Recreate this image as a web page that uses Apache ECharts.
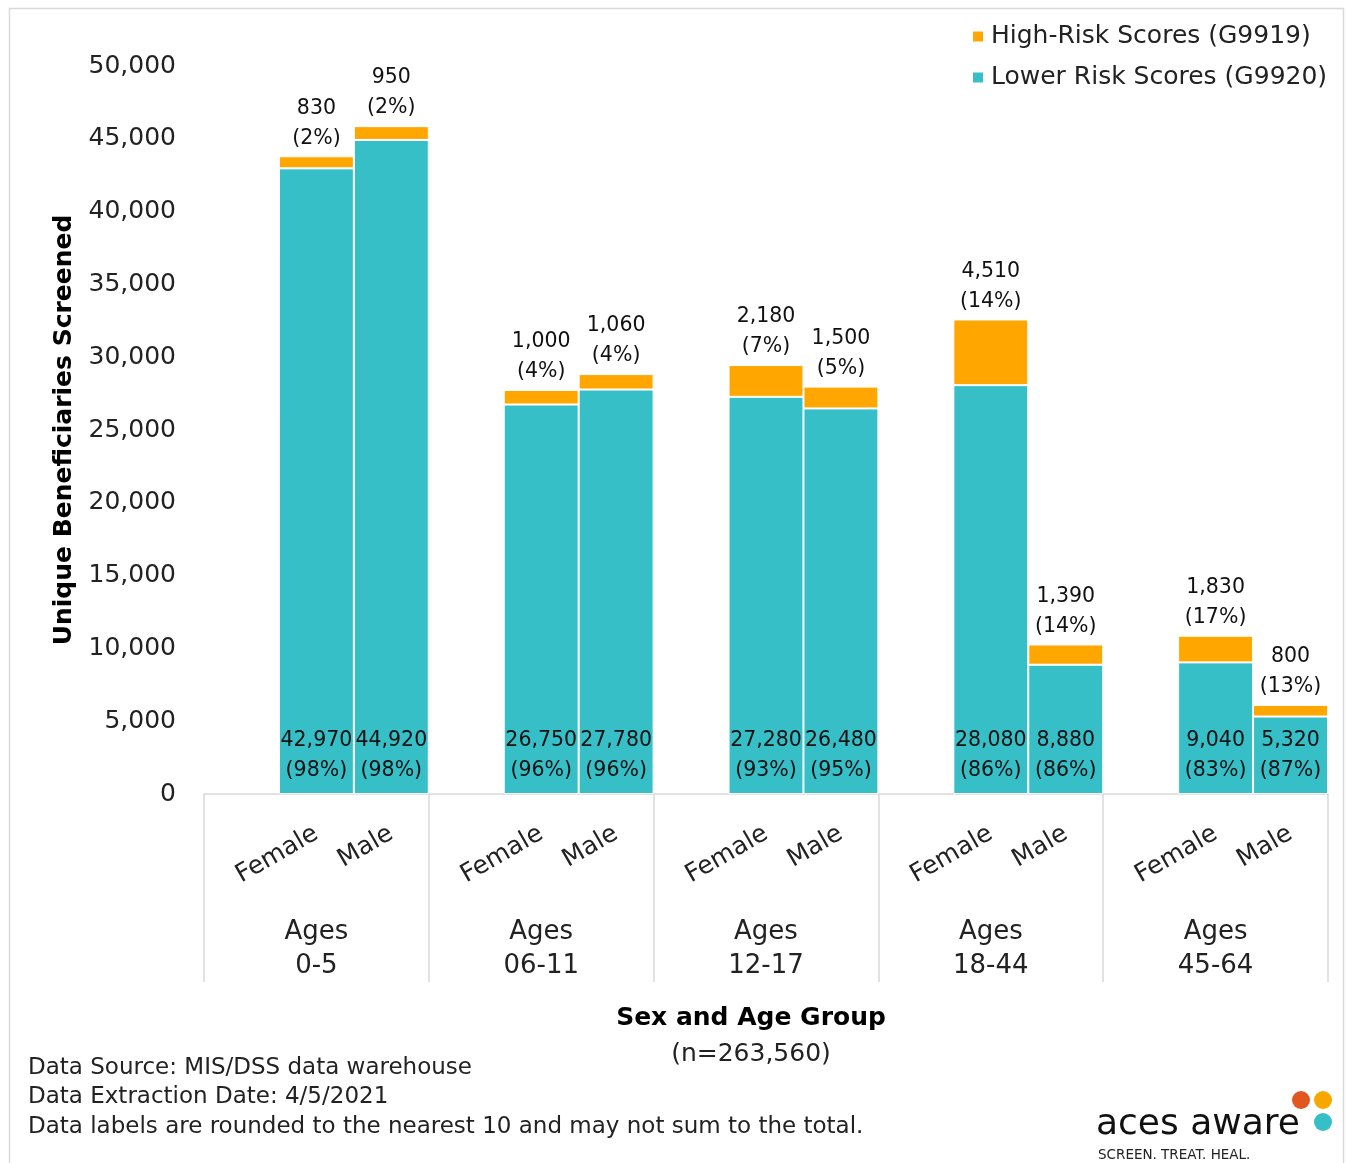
<!DOCTYPE html>
<html>
<head>
<meta charset="utf-8">
<title>Unique Beneficiaries Screened by Sex and Age Group</title>
<script src="https://cdn.jsdelivr.net/npm/echarts@6/dist/echarts.min.js"></script>
<style>
  html, body { margin: 0; padding: 0; background: #fff; }
  #chart { width: 1346px; height: 1163px; }
</style>
</head>
<body>
<div id="chart"></div>
<script>
// Age groups (second axis level) and sexes (first axis level)
const ageGroups = ['Ages\n0-5', 'Ages\n06-11', 'Ages\n12-17', 'Ages\n18-44', 'Ages\n45-64'];
const sexes = ['Female', 'Male'];

// Values ordered Female/Male within each age group
const lowerRisk = [42970, 44920, 26750, 27780, 27280, 26480, 28080, 8880, 9040, 5320];
const lowerPct  = [98, 98, 96, 96, 93, 95, 86, 86, 83, 87];
const highRisk  = [830, 950, 1000, 1060, 2180, 1500, 4510, 1390, 1830, 800];
const highPct   = [2, 2, 4, 4, 7, 5, 14, 14, 17, 13];

const yTicks = { min: 0, max: 50000, interval: 5000 };

const FONT = "'Century Gothic', 'DejaVu Sans', sans-serif";
const TEAL = '#36BFC6';
const ORANGE = '#FFA600';
const GRID_LINE = '#D9D9D9';

// Each age group gets an empty leading slot followed by Female and Male
const categories = [];
const lowerData = [];
const highData = [];
ageGroups.forEach((g, gi) => {
  categories.push('');
  lowerData.push(null);
  highData.push(null);
  sexes.forEach((s, si) => {
    const k = gi * sexes.length + si;
    categories.push(s);
    lowerData.push({ value: lowerRisk[k], pct: lowerPct[k] });
    highData.push({ value: highRisk[k], pct: highPct[k] });
  });
});

const fmt = v => Number(v).toLocaleString('en-US');

const chart = echarts.init(document.getElementById('chart'), null, { renderer: 'canvas' });

chart.setOption({
  backgroundColor: '#fff',
  textStyle: { fontFamily: FONT },
  animation: false,
  legend: {
    orient: 'vertical',
    left: 966,
    top: 19,
    align: 'left',
    itemWidth: 12,
    itemHeight: 12,
    itemGap: 16,
    icon: 'rect',
    data: ['High-Risk Scores (G9919)', 'Lower Risk Scores (G9920)'],
    textStyle: { fontFamily: FONT, fontSize: 25, color: '#222', padding: [0, 0, 0, 2] }
  },
  grid: { left: 204, right: 18, top: 66, bottom: 369, containLabel: false },
  xAxis: [
    {
      type: 'category',
      data: categories,
      boundaryGap: true,
      axisLine: { show: true, lineStyle: { color: GRID_LINE, width: 1.5 } },
      axisTick: { show: false },
      axisLabel: {
        interval: 0,
        rotate: 30,
        margin: 38,
        fontFamily: FONT,
        fontSize: 25,
        color: '#222'
      }
    },
    {
      type: 'category',
      data: ageGroups,
      position: 'bottom',
      boundaryGap: true,
      axisLine: { show: false },
      axisTick: { show: true, length: 188, lineStyle: { color: GRID_LINE, width: 1.5 } },
      axisLabel: {
        interval: 0,
        margin: 121,
        fontFamily: FONT,
        fontSize: 26,
        lineHeight: 34,
        color: '#222'
      }
    }
  ],
  yAxis: {
    type: 'value',
    min: yTicks.min,
    max: yTicks.max,
    interval: yTicks.interval,
    splitLine: { show: false },
    axisLine: { show: false },
    axisTick: { show: false },
    axisLabel: {
      margin: 28,
      fontFamily: FONT,
      fontSize: 25,
      color: '#222',
      formatter: v => fmt(v)
    },
    name: 'Unique Beneficiaries Screened',
    nameLocation: 'middle',
    nameGap: 127,
    nameTextStyle: { fontFamily: FONT, fontSize: 25, fontWeight: 'bold', color: '#000' }
  },
  series: [
    {
      name: 'Lower Risk Scores (G9920)',
      type: 'bar',
      stack: 'total',
      xAxisIndex: 0,
      barCategoryGap: '0%',
      data: lowerData,
      itemStyle: { color: TEAL, borderColor: '#fff', borderWidth: 1 },
      label: {
        show: true,
        position: 'insideBottom',
        distance: 8,
        fontFamily: FONT,
        fontSize: 20.5,
        lineHeight: 30,
        color: '#111',
        formatter: p => fmt(p.data.value) + '\n(' + p.data.pct + '%)'
      }
    },
    {
      name: 'High-Risk Scores (G9919)',
      type: 'bar',
      stack: 'total',
      xAxisIndex: 0,
      barCategoryGap: '0%',
      data: highData,
      itemStyle: { color: ORANGE, borderColor: '#fff', borderWidth: 1 },
      label: {
        show: true,
        position: 'top',
        distance: 3,
        fontFamily: FONT,
        fontSize: 20.5,
        lineHeight: 30,
        color: '#111',
        formatter: p => fmt(p.data.value) + '\n(' + p.data.pct + '%)'
      }
    }
  ],
  graphic: [
    // chart frame
    {
      type: 'rect',
      shape: { x: 9.5, y: 8.5, width: 1334, height: 1170 },
      style: { fill: 'none', stroke: GRID_LINE, lineWidth: 1.5 },
      silent: true
    },
    // x axis title
    {
      type: 'text',
      x: 751, y: 1000,
      style: {
        text: '{b|Sex and Age Group}\n{n|(n=263,560)}',
        align: 'center',
        verticalAlign: 'top',
        rich: {
          b: { fontFamily: FONT, fontSize: 25, fontWeight: 'bold', lineHeight: 36, fill: '#000', align: 'center' },
          n: { fontFamily: FONT, fontSize: 25, lineHeight: 36, fill: '#222', align: 'center' }
        }
      }
    },
    // footnotes
    {
      type: 'text',
      left: 28, top: 1053,
      style: {
        text: 'Data Source: MIS/DSS data warehouse\nData Extraction Date: 4/5/2021\nData labels are rounded to the nearest 10 and may not sum to the total.',
        fontFamily: FONT, fontSize: 23, lineHeight: 29.5, fill: '#222'
      }
    },
    // logo
    {
      type: 'text',
      left: 1096, top: 1107,
      style: { text: 'aces aware', fontFamily: FONT, fontSize: 36, fill: '#111' }
    },
    {
      type: 'text',
      left: 1098, top: 1148,
      style: { text: 'SCREEN. TREAT. HEAL.', fontFamily: FONT, fontSize: 13.5, fill: '#222' }
    },
    { type: 'circle', shape: { cx: 1301, cy: 1100, r: 9 }, style: { fill: '#E2561F' } },
    { type: 'circle', shape: { cx: 1323, cy: 1100, r: 9 }, style: { fill: '#F7A700' } },
    { type: 'circle', shape: { cx: 1323, cy: 1122, r: 9 }, style: { fill: '#36BFC6' } }
  ]
});
</script>
</body>
</html>
